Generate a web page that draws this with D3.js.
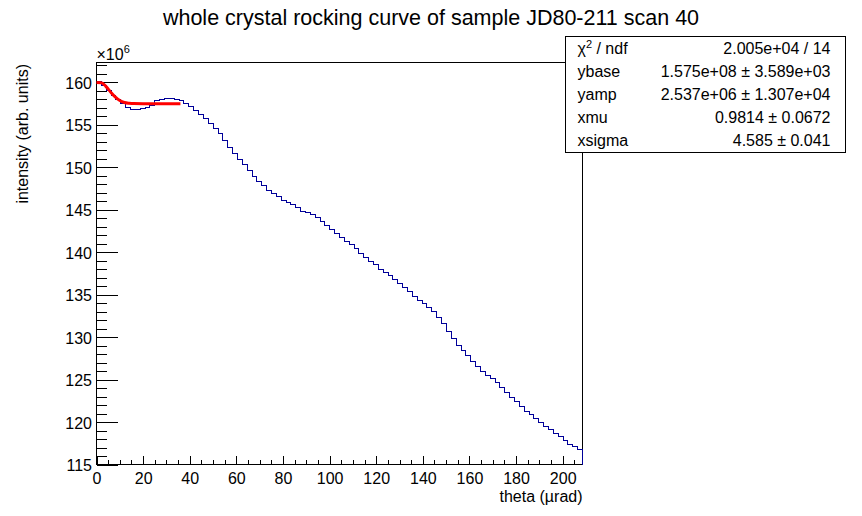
<!DOCTYPE html>
<html>
<head>
<meta charset="utf-8">
<script src="https://cdn.jsdelivr.net/npm/d3@7/dist/d3.min.js"></script>
<style>
  html, body { margin: 0; padding: 0; background: #ffffff; }
  svg { display: block; }
  text { font-family: "Liberation Sans", Arial, Helvetica, sans-serif; fill: #000; }
</style>
</head>
<body>
<div id="chart"></div>
<script>
// ---------------- data ----------------
const titleText = "whole crystal rocking curve of sample JD80-211 scan 40";
const xTitle = "theta (\u00b5rad)";
const yTitle = "intensity (arb. units)";

// histogram: 100 bins spanning theta 0 .. 208.5 urad, values in units of 1e6
const xMin = 0, xMax = 208.5, nBins = 100;
const yMin = 115, yMax = 162.35;
const binValues = [
  160.12, 159.65, 159.06, 158.47, 158.00, 157.53, 157.02, 156.82, 156.82, 156.94,
  157.06, 157.25, 157.84, 157.96, 158.08, 158.08, 158.00, 157.88, 157.57, 157.14,
  156.67, 156.20, 155.72, 155.14, 154.55, 154.00, 153.17, 152.38, 151.60, 150.93,
  150.30, 149.63, 148.93, 148.34, 147.83, 147.28, 146.89, 146.57, 146.10, 145.87,
  145.63, 145.24, 144.84, 144.65, 144.45, 144.06, 143.66, 143.12, 142.69, 142.25,
  141.78, 141.31, 140.88, 140.41, 139.82, 139.35, 138.88, 138.53, 138.01, 137.58,
  137.23, 136.76, 136.29, 135.82, 135.38, 134.76, 134.29, 133.93, 133.46, 133.03,
  132.28, 131.58, 130.67, 129.85, 129.02, 128.48, 127.89, 127.10, 126.50, 125.98,
  125.51, 125.10, 124.60, 124.10, 123.50, 122.90, 122.40, 121.80, 121.30, 120.90,
  120.40, 119.90, 119.50, 119.10, 118.70, 118.30, 117.80, 117.40, 117.10, 116.80
];

// fitted curve (red)
const fitX = [0, 2, 4, 6, 8, 10, 12, 14, 16, 20, 28, 36];
const fitY = [159.98, 159.97, 159.54, 158.89, 158.29, 157.87, 157.64, 157.55, 157.51, 157.50, 157.50, 157.50];

// axis ticks
const xMajorTicks = [0, 20, 40, 60, 80, 100, 120, 140, 160, 180, 200];
const xMinorTicks = d3.range(0, 206, 5);
const yMajorTicks = [115, 120, 125, 130, 135, 140, 145, 150, 155, 160];
const yMinorTicks = d3.range(115, 163, 1);

// stats box
const statLabels = ["chi2", "ybase", "yamp", "xmu", "xsigma"];
const statValues = ["2.005e+04 / 14", "1.575e+08 \u00b1 3.589e+03", "2.537e+06 \u00b1 1.307e+04", "0.9814 \u00b1 0.0672", "4.585 \u00b1 0.041"];

// ---------------- layout ----------------
const W = 862, H = 516;
const L = 96.5, R = 582.5, T = 62.5, B = 464.5;
const box = { x0: 565.5, x1: 845.5, y0: 36.5, y1: 152.5 };

const svg = d3.select("#chart").append("svg")
  .attr("width", W).attr("height", H)
  .attr("viewBox", `0 0 ${W} ${H}`);

svg.append("rect").attr("width", W).attr("height", H).attr("fill", "#fff");

const x = d3.scaleLinear().domain([xMin, xMax]).range([L, R]);
const y = d3.scaleLinear().domain([yMin, yMax]).range([B, T]);

// frame
svg.append("rect")
  .attr("x", L).attr("y", T).attr("width", R - L).attr("height", B - T)
  .attr("fill", "none").attr("stroke", "#000").attr("stroke-width", 1)
  .attr("shape-rendering", "crispEdges");

// axes (ticks inside the frame, ROOT style)
const fontSize = 16;
const gx = svg.append("g").attr("transform", `translate(0,${B})`);
gx.call(d3.axisBottom(x).tickValues(xMinorTicks).tickSizeInner(-4.5).tickSizeOuter(0).tickFormat(""));
const gxM = svg.append("g").attr("transform", `translate(0,${B})`);
gxM.call(d3.axisBottom(x).tickValues(xMajorTicks).tickSizeInner(-9).tickSizeOuter(0).tickPadding(8).tickFormat(d3.format("d")));

const gy = svg.append("g").attr("transform", `translate(${L},0)`);
gy.call(d3.axisLeft(y).tickValues(yMinorTicks).tickSizeInner(-10.5).tickSizeOuter(0).tickFormat(""));
const gyM = svg.append("g").attr("transform", `translate(${L},0)`);
gyM.call(d3.axisLeft(y).tickValues(yMajorTicks).tickSizeInner(-21).tickSizeOuter(0).tickPadding(4.5).tickFormat(d3.format("d")));

svg.selectAll(".domain").remove();
svg.selectAll(".tick line").attr("stroke", "#000").attr("shape-rendering", "crispEdges");
svg.selectAll(".tick text")
  .style("font-family", '"Liberation Sans", Arial, sans-serif')
  .style("font-size", fontSize + "px").attr("fill", "#000");
gyM.selectAll(".tick text").attr("dy", "0.38em");

// exponent label
const expo = svg.append("text").attr("x", L).attr("y", 60).style("font-size", "16px");
expo.append("tspan").text("\u00d710");
expo.append("tspan").attr("dy", -7).style("font-size", "11px").text("6");

// histogram step line
const bw = (xMax - xMin) / nBins;
const p = d3.path();
binValues.forEach((v, i) => {
  const xa = x(xMin + i * bw), xb = x(xMin + (i + 1) * bw);
  if (i === 0) p.moveTo(xa, y(v)); else p.lineTo(xa, y(v));
  p.lineTo(xb, y(v));
});
p.lineTo(x(xMax), y(yMin));
svg.append("path").attr("d", p.toString())
  .attr("fill", "none").attr("stroke", "#000099").attr("stroke-width", 1)
  .attr("shape-rendering", "crispEdges");

// fit curve
const fitLine = d3.line().x(d => x(d[0])).y(d => y(d[1])).curve(d3.curveMonotoneX);
svg.append("path").attr("d", fitLine(fitX.map((xv, i) => [xv, fitY[i]])))
  .attr("fill", "none").attr("stroke", "#ff0000").attr("stroke-width", 3);

// stats box
svg.append("rect")
  .attr("x", box.x0).attr("y", box.y0).attr("width", box.x1 - box.x0).attr("height", box.y1 - box.y0)
  .attr("fill", "#fff").attr("stroke", "#000").attr("stroke-width", 1)
  .attr("shape-rendering", "crispEdges");
const rowH = (box.y1 - box.y0) / statLabels.length;
statLabels.forEach((lab, i) => {
  const by = box.y0 + rowH * (i + 0.5) + 5.5;
  const t = svg.append("text").attr("x", box.x0 + 12).attr("y", by).style("font-size", "16px");
  if (lab === "chi2") {
    t.append("tspan").text("\u03c7");
    t.append("tspan").attr("dy", -6).style("font-size", "11px").text("2");
    t.append("tspan").attr("dy", 6).text(" / ndf");
  } else {
    t.text(lab);
  }
  svg.append("text").attr("x", box.x1 - 15).attr("y", by)
    .attr("text-anchor", "end").style("font-size", "16px").text(statValues[i]);
});

// titles
svg.append("text").attr("x", 431).attr("y", 25).attr("text-anchor", "middle")
  .style("font-size", "21.5px").text(titleText);
svg.append("text").attr("x", R).attr("y", 502).attr("text-anchor", "end")
  .style("font-size", "16px").text(xTitle);
svg.append("text").attr("transform", `translate(27.5,64) rotate(-90)`)
  .attr("text-anchor", "end").style("font-size", "16px").text(yTitle);
</script>
</body>
</html>
